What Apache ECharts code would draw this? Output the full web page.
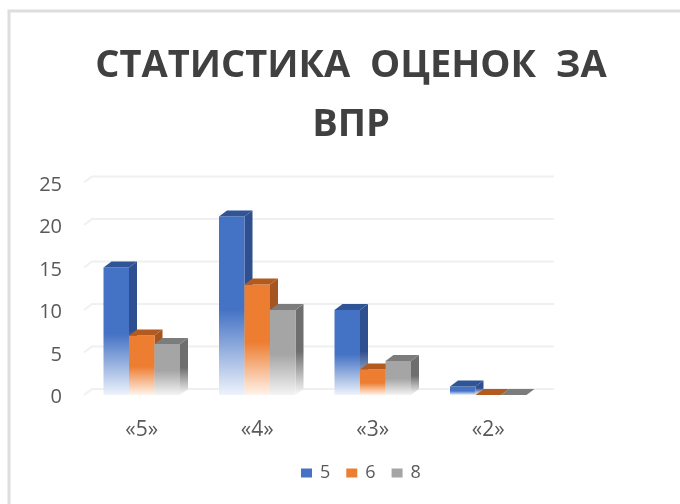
<!DOCTYPE html>
<html>
<head>
<meta charset="utf-8">
<style>
  html, body { margin: 0; padding: 0; background: #fff; }
  #chart { width: 680px; height: 504px; }
</style>
</head>
<body>
<div id="chart"></div>
<script src="https://cdn.jsdelivr.net/npm/echarts@6/dist/echarts.min.js"></script>
<script>
const categories = ['«5»', '«4»', '«3»', '«2»']
const seriesNames = ['5', '6', '8']
const values5 = [15, 21, 10, 1]
const values6 = [7, 13, 3, 0]
const values8 = [6, 10, 4, 0]
const yTicks = [0, 5, 10, 15, 20, 25]

const barWidth = 25.5
const depthX = 8
const depthY = -6

// front, side and top colours of the fake 3d bars
const palette = [
  { front: '#4472c4', side: '#2f5090', top: '#2f5597', fade: '#eef3fb' },
  { front: '#ed7d31', side: '#a5551f', top: '#b35a1f', fade: '#fff3ea' },
  { front: '#a5a5a5', side: '#6e6e6e', top: '#7c7c7c', fade: '#f4f4f4' }
]

function fadeFill(color, fade) {
  return new echarts.graphic.LinearGradient(0, 0, 0, 1, [
    { offset: 0, color: color },
    { offset: 0.52, color: color },
    { offset: 1, color: fade }
  ])
}

function renderBar(index) {
  return function (params, api) {
    const base = api.coord([api.value(0), 0])
    const top = api.coord([api.value(0), api.value(1)])
    const left = base[0] + (index - 1.5) * barWidth
    const right = left + barWidth
    const c = palette[index]
    const children = []
    if (top[1] < base[1]) {
      children.push({
        type: 'polygon',
        shape: { points: [[right, top[1]], [right + depthX, top[1] + depthY], [right + depthX, base[1] + depthY], [right, base[1]]] },
        style: { fill: fadeFill(c.side, '#fafafa') }
      })
      children.push({
        type: 'rect',
        shape: { x: left, y: top[1], width: barWidth, height: base[1] - top[1] },
        style: { fill: fadeFill(c.front, c.fade) }
      })
    }
    children.push({
      type: 'polygon',
      shape: { points: [[left, top[1]], [left + depthX, top[1] + depthY], [right + depthX, top[1] + depthY], [right, top[1]]] },
      style: { fill: c.top }
    })
    return { type: 'group', children: children }
  }
}

function renderWall(params, api) {
  const p = api.coord([0, api.value(0)])
  const x0 = params.coordSys.x
  const x1 = x0 + params.coordSys.width
  return {
    type: 'polyline',
    shape: { points: [[x0, p[1]], [x0 + depthX, p[1] + depthY], [x1 + depthX, p[1] + depthY]] },
    style: { stroke: '#f0f0f0', lineWidth: 2, fill: null }
  }
}

const barSeries = [values5, values6, values8].map(function (vals, i) {
  return {
    name: seriesNames[i],
    type: 'custom',
    renderItem: renderBar(i),
    itemStyle: { color: palette[i].front },
    encode: { x: 0, y: 1 },
    data: vals.map(function (v, k) { return [k, v] }),
    z: 3 + i
  }
})

const chart = echarts.init(document.getElementById('chart'))
chart.setOption({
  animation: false,
  backgroundColor: '#fff',
  title: {
    text: 'СТАТИСТИКА  ОЦЕНОК  ЗА\nВПР',
    left: 346,
    top: 32,
    textAlign: 'center',
    textStyle: {
      fontFamily: 'Open Sans',
      fontWeight: 'bold',
      fontSize: 38,
      lineHeight: 59,
      color: '#404040'
    }
  },
  legend: {
    data: seriesNames,
    left: 296,
    top: 459,
    icon: 'rect',
    itemWidth: 11,
    itemHeight: 9,
    itemGap: 16,
    textStyle: { fontFamily: 'Open Sans', fontSize: 18, color: '#595959', padding: [0, 0, 0, 3] }
  },
  grid: { left: 84, right: 134, top: 182.5, bottom: 109 },
  xAxis: {
    type: 'category',
    data: categories,
    axisLine: { show: false },
    axisTick: { show: false },
    axisLabel: { margin: 25, fontFamily: 'Open Sans', fontSize: 21, color: '#595959' }
  },
  yAxis: {
    type: 'value',
    min: 0,
    max: 25,
    interval: 5,
    axisLine: { show: false },
    axisTick: { show: false },
    splitLine: { show: false },
    axisLabel: { margin: 22, fontFamily: 'Open Sans', fontSize: 20, color: '#595959', verticalAlign: 'top', lineHeight: 5 }
  },
  series: [
    {
      type: 'custom',
      name: 'wall',
      renderItem: renderWall,
      silent: true,
      encode: { y: 0 },
      data: yTicks.map(function (t) { return [t] }),
      z: 1
    }
  ].concat(barSeries),
  graphic: [
    {
      type: 'polyline',
      silent: true,
      shape: { points: [[9, 504], [9, 11], [680, 11]] },
      style: { stroke: '#dedede', lineWidth: 3, fill: null }
    }
  ]
})
</script>
</body>
</html>
